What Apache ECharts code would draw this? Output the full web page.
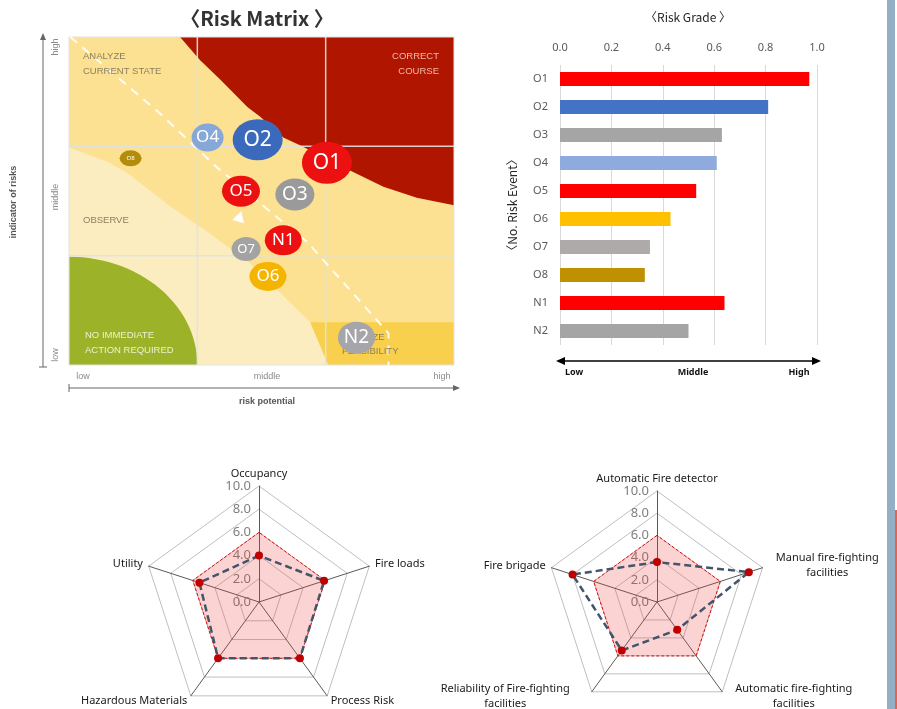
<!DOCTYPE html>
<html>
<head>
<meta charset="utf-8">
<title>Risk Matrix / Risk Grade</title>
<script src="https://cdn.jsdelivr.net/npm/echarts@6.0.0/dist/echarts.min.js"></script>
<style>
  html, body { margin: 0; padding: 0; background: #fff; }
  #main { width: 897px; height: 709px; }
</style>
</head>
<body>
<div id="main"></div>
<script>
// --- risk matrix bubbles (x: risk potential, y: indicator of risks, 0..3 = low/middle/high bands)
const matrixEvents = ['O1', 'O2', 'O3', 'O4', 'O5', 'O6', 'O7', 'O8', 'N1', 'N2'];
const riskPotential = [2.01, 1.47, 1.76, 1.08, 1.34, 1.55, 1.38, 0.48, 1.67, 2.24];
const riskIndicator = [1.85, 2.06, 1.56, 2.08, 1.59, 0.81, 1.06, 1.89, 1.14, 0.25];
const matrixLevels = ['low', 'middle', 'high'];

// --- risk grade bars
const gradeEvents = ['O1', 'O2', 'O3', 'O4', 'O5', 'O6', 'O7', 'O8', 'N1', 'N2'];
const riskGrade = [0.97, 0.81, 0.63, 0.61, 0.53, 0.43, 0.35, 0.33, 0.64, 0.50];
const gradeTicks = ['Low', 'Middle', 'High'];

// --- radars (radar goes counter-clockwise from the top)
const hazardAxes = ['Occupancy', 'Utility', 'Hazardous Materials', 'Process Risk', 'Fire loads'];
const hazardLimit = [6, 6, 6, 6, 6];
const hazardScore = [4.0, 5.4, 6.0, 6.0, 5.9];
const protectAxes = ['Automatic Fire detector', 'Fire brigade', 'Reliability of Fire-fighting\nfacilities',
  'Automatic fire-fighting\nfacilities', 'Manual fire-fighting\nfacilities'];
const protectLimit = [6, 6, 6, 6, 6];
const protectScore = [3.6, 8.0, 5.4, 3.1, 8.7];

// background zones of the matrix, in axis units
const correctZone = [[0.865, 3], [1.02, 2.79], [1.18, 2.61], [1.39, 2.36], [1.49, 2.27], [1.67, 2.08],
  [1.8, 2.01], [2.19, 1.78], [2.45, 1.63], [2.71, 1.53], [3, 1.46], [3, 3]];
const observeZone = [[0, 1.99], [0.3, 1.86], [0.45, 1.76], [0.79, 1.45], [1.1, 1.2], [1.41, 0.93],
  [1.57, 0.75], [1.75, 0.54], [1.88, 0.39], [2.02, 0], [0, 0]];
const feasibleZone = [[1.88, 0.39], [3, 0.39], [3, 0], [2.02, 0]];
const dashPath = [[0.01, 3], [0.71, 2.3], [1.15, 1.81], [1.86, 1.12], [2.24, 0.62], [2.49, 0.29], [2.49, 0]];

const bubbleStyle = {
  O1: { w: 50, h: 42, c: '#EC1010', f: 21 },
  O2: { w: 50, h: 41, c: '#3B69BC', f: 21 },
  O3: { w: 39, h: 32, c: '#9A9A9A', f: 19 },
  O4: { w: 32, h: 28, c: '#86A8D9', f: 17 },
  O5: { w: 38, h: 31, c: '#EC1010', f: 17 },
  O6: { w: 37, h: 29, c: '#F4B400', f: 17 },
  O7: { w: 29, h: 24, c: '#A3A3A3', f: 13 },
  O8: { w: 22, h: 16, c: '#B48C0C', f: 6 },
  N1: { w: 37, h: 30, c: '#EC1010', f: 17 },
  N2: { w: 37, h: 32, c: '#A5A5AA', f: 19 }
};
const barColors = ['#FF0000', '#4472C4', '#A5A5A5', '#8FAADC', '#FF0000', '#FFC000', '#AEAAAA', '#BF9000', '#FF0000', '#A5A5A5'];

function renderZones(params, api) {
  const pts = arr => arr.map(p => api.coord(p));
  const arc = [[0, 0]];
  for (let a = 0; a <= 90; a += 3) {
    const r = a * Math.PI / 180;
    arc.push([1.0 * Math.cos(r), 0.99 * Math.sin(r)]);
  }
  const children = [
    { type: 'polygon', shape: { points: pts([[0, 0], [3, 0], [3, 3], [0, 3]]) }, style: { fill: '#FBE191' } },
    { type: 'polygon', shape: { points: pts(observeZone) }, style: { fill: '#FCEDC0' } },
    { type: 'polygon', shape: { points: pts(feasibleZone) }, style: { fill: '#F8D04E' } },
    { type: 'polygon', shape: { points: pts(arc) }, style: { fill: '#9CB329' } },
    { type: 'polygon', shape: { points: pts(correctZone) }, style: { fill: '#B01500' } }
  ];
  [1, 2].forEach(v => {
    const a = api.coord([v, 0]), b = api.coord([v, 3]);
    const c = api.coord([0, v]), d = api.coord([3, v]);
    children.push({ type: 'line', shape: { x1: a[0], y1: a[1], x2: b[0], y2: b[1] }, style: { stroke: 'rgba(222,226,232,0.9)', lineWidth: 1.5 } });
    children.push({ type: 'line', shape: { x1: c[0], y1: c[1], x2: d[0], y2: d[1] }, style: { stroke: 'rgba(222,226,232,0.9)', lineWidth: 1.5 } });
  });
  const p0 = api.coord([0, 3]), p1 = api.coord([3, 0]);
  children.push({ type: 'rect', shape: { x: p0[0], y: p0[1], width: p1[0] - p0[0], height: p1[1] - p0[1] },
    style: { fill: 'none', stroke: '#E3E3E3', lineWidth: 1 } });
  return { type: 'group', children: children };
}

// rich text so that two-line radar names are centred line by line
function radarRich(names) {
  const rich = {};
  names.forEach((n, i) => {
    const len = Math.max.apply(null, n.split('\n').map(s => s.length));
    rich['n' + i] = { width: Math.ceil(len * 5.9), align: 'center', fontSize: 11, color: '#1a1a1a',
      fontFamily: 'Noto Sans', lineHeight: 15 };
  });
  return rich;
}
function radarName(names) {
  return function (value) {
    const i = names.indexOf(value);
    if (value.indexOf('\n') < 0) return value;
    return value.split('\n').map(s => '{n' + i + '|' + s + '}').join('\n');
  };
}
function indicators(names) {
  return names.map((n, i) => {
    const ind = { name: n, min: 0, max: 10 };
    if (i === 0) {
      ind.axisLabel = { show: true, color: '#7F7F7F', fontSize: 13, fontFamily: 'Noto Sans',
        formatter: v => v.toFixed(1), margin: 8 };
    }
    return ind;
  });
}
function radarBase(center, radius, names) {
  return {
    center: center, radius: radius, shape: 'polygon', splitNumber: 5, startAngle: 90,
    indicator: indicators(names),
    nameGap: 6,
    axisName: { color: '#1a1a1a', fontSize: 11, fontFamily: 'Noto Sans', formatter: radarName(names), rich: radarRich(names) },
    splitArea: { show: false },
    splitLine: { lineStyle: { color: '#BFBFBF', width: 1 } },
    axisLine: { lineStyle: { color: '#595959', width: 1 } },
    axisLabel: { show: false }
  };
}
function radarSeries(idx, limit, score) {
  return [{
    type: 'radar', radarIndex: idx, symbol: 'none', silent: true, z: 2,
    data: [{ value: limit, areaStyle: { color: 'rgba(240,60,60,0.32)' },
      lineStyle: { color: '#E00000', width: 1, type: [3, 2] } }]
  }, {
    type: 'radar', radarIndex: idx, symbol: 'circle', symbolSize: 8, silent: true, z: 3,
    data: [{ value: score, itemStyle: { color: '#C00000' },
      lineStyle: { color: '#44546A', width: 2.5, type: [7, 4] } }]
  }];
}

const gray = '#8a8a8a';
function txt(text, x, y, opt) {
  return Object.assign({ type: 'text', x: x, y: y, z: 3, silent: true,
    style: Object.assign({ text: text, fill: '#333', fontSize: 10, fontFamily: 'Liberation Sans',
      textAlign: 'center', textVerticalAlign: 'middle' }, opt.style || {}) }, opt.el || {});
}

const graphics = [
  // titles
  txt('〈Risk Matrix 〉', 257, 18, { style: { fontSize: 20, fontWeight: 'bold', fill: '#333', fontFamily: 'Noto Sans CJK KR' } }),
  txt('〈Risk Grade 〉', 688, 17, { style: { fontSize: 12, fill: '#262626', fontFamily: 'Noto Sans CJK KR' } }),
  // zone captions
  txt('ANALYZE\nCURRENT STATE', 83, 63.5, { style: { textAlign: 'left', fill: '#8C7F5E', fontSize: 9.5, lineHeight: 15 } }),
  txt('CORRECT\nCOURSE', 439, 63.5, { style: { textAlign: 'right', fill: '#F0B9AA', fontSize: 9.5, lineHeight: 15 } }),
  txt('OBSERVE', 83, 220, { style: { textAlign: 'left', fill: '#8C7F5E', fontSize: 9.5 } }),
  txt('NO IMMEDIATE\nACTION REQUIRED', 85, 342.5, { style: { textAlign: 'left', fill: '#EEF0D2', fontSize: 9.5, lineHeight: 15 } }),
  txt('ANALYZE\nFEASIBILITY', 342, 344, { style: { textAlign: 'left', fill: '#8C7F5E', fontSize: 9.5, lineHeight: 14 } }),
  // matrix y axis
  { type: 'line', shape: { x1: 43, y1: 38, x2: 43, y2: 367 }, style: { stroke: '#666', lineWidth: 1 } },
  { type: 'polygon', shape: { points: [[43, 33], [40, 40], [46, 40]] }, style: { fill: '#666' } },
  { type: 'line', shape: { x1: 39, y1: 367, x2: 47, y2: 367 }, style: { stroke: '#666', lineWidth: 1 } },
  txt(matrixLevels[2], 56, 47, { el: { rotation: Math.PI / 2 }, style: { fill: gray, fontSize: 9 } }),
  txt(matrixLevels[1], 56, 197, { el: { rotation: Math.PI / 2 }, style: { fill: gray, fontSize: 9 } }),
  txt(matrixLevels[0], 56, 355, { el: { rotation: Math.PI / 2 }, style: { fill: gray, fontSize: 9 } }),
  txt('indicator of risks', 14, 202, { el: { rotation: Math.PI / 2 }, style: { fill: '#555', fontSize: 9, fontWeight: 'bold' } }),
  // matrix x axis
  { type: 'line', shape: { x1: 69, y1: 388, x2: 455, y2: 388 }, style: { stroke: '#666', lineWidth: 1 } },
  { type: 'polygon', shape: { points: [[460, 388], [453, 385], [453, 391]] }, style: { fill: '#666' } },
  { type: 'line', shape: { x1: 69, y1: 384, x2: 69, y2: 392 }, style: { stroke: '#666', lineWidth: 1 } },
  txt(matrixLevels[0], 83, 377, { style: { fill: gray, fontSize: 9 } }),
  txt(matrixLevels[1], 267, 377, { style: { fill: gray, fontSize: 9 } }),
  txt(matrixLevels[2], 442, 377, { style: { fill: gray, fontSize: 9 } }),
  txt('risk potential', 267, 402, { style: { fill: '#555', fontSize: 9, fontWeight: 'bold' } }),
  // grade arrow
  { type: 'line', shape: { x1: 562, y1: 361, x2: 815, y2: 361 }, style: { stroke: '#000', lineWidth: 1.3 } },
  { type: 'polygon', shape: { points: [[556, 361], [565, 357], [565, 365]] }, style: { fill: '#000' } },
  { type: 'polygon', shape: { points: [[821, 361], [812, 357], [812, 365]] }, style: { fill: '#000' } },
  txt(gradeTicks[0], 574, 372, { style: { fill: '#111', fontSize: 9, fontWeight: 'bold', fontFamily: 'Noto Sans' } }),
  txt(gradeTicks[1], 693, 372, { style: { fill: '#111', fontSize: 9, fontWeight: 'bold', fontFamily: 'Noto Sans' } }),
  txt(gradeTicks[2], 799, 372, { style: { fill: '#111', fontSize: 9, fontWeight: 'bold', fontFamily: 'Noto Sans' } }),
  // slide edge
  { type: 'rect', shape: { x: 887, y: 0, width: 8, height: 709 }, style: { fill: '#93AFC3' } },
  { type: 'rect', shape: { x: 895, y: 510, width: 2, height: 199 }, style: { fill: '#E8624C' } }
];

const option = {
  animation: false,
  textStyle: { fontFamily: 'Noto Sans' },
  grid: [
    { left: 69, top: 37, width: 385, height: 328 },
    { left: 560, top: 65, width: 257, height: 280 }
  ],
  xAxis: [
    { gridIndex: 0, type: 'value', min: 0, max: 3, show: false },
    { gridIndex: 1, type: 'value', position: 'top', min: 0, max: 1, interval: 0.2,
      axisLabel: { formatter: v => v.toFixed(1), color: '#595959', fontSize: 11, margin: 12 },
      axisLine: { show: false }, axisTick: { show: false },
      splitLine: { lineStyle: { color: '#D9D9D9' } } }
  ],
  yAxis: [
    { gridIndex: 0, type: 'value', min: 0, max: 3, show: false },
    { gridIndex: 1, type: 'category', inverse: true, data: gradeEvents,
      axisLine: { show: false }, axisTick: { show: false },
      axisLabel: { color: '#595959', fontSize: 11, margin: 12 },
      name: '〈No. Risk Event〉', nameLocation: 'middle', nameRotate: 90, nameGap: 42,
      nameTextStyle: { color: '#262626', fontSize: 12, fontFamily: 'Noto Sans CJK KR' } }
  ],
  radar: [
    radarBase([259, 602], 116, hazardAxes),
    radarBase([657, 602], 111, protectAxes)
  ],
  graphic: graphics,
  series: [
    { type: 'custom', xAxisIndex: 0, yAxisIndex: 0, data: [[0, 0]], renderItem: renderZones, silent: true, z: 1, clip: false },
    { type: 'line', xAxisIndex: 0, yAxisIndex: 0, data: dashPath, symbol: 'none', silent: true, z: 2,
      lineStyle: { color: 'rgba(255,255,255,0.9)', width: 2, type: [9, 7] } },
    { type: 'scatter', xAxisIndex: 0, yAxisIndex: 0, data: [[1.33, 1.36]], symbol: 'triangle', symbolSize: [12, 11],
      symbolRotate: -15, itemStyle: { color: '#fff', opacity: 1 }, silent: true, z: 2 },
    { type: 'scatter', xAxisIndex: 0, yAxisIndex: 0, silent: true, z: 10,
      data: matrixEvents.map((n, i) => ({
        name: n, value: [riskPotential[i], riskIndicator[i]],
        symbolSize: [bubbleStyle[n].w, bubbleStyle[n].h],
        itemStyle: { color: bubbleStyle[n].c, opacity: 1 },
        label: { fontSize: bubbleStyle[n].f }
      })),
      label: { show: true, position: 'inside', formatter: '{b}', color: '#fff', fontFamily: 'Noto Sans' } },
    { type: 'bar', xAxisIndex: 1, yAxisIndex: 1, barWidth: 14, silent: true,
      data: riskGrade.map((v, i) => ({ value: v, itemStyle: { color: barColors[i] } })) }
  ].concat(radarSeries(0, hazardLimit, hazardScore), radarSeries(1, protectLimit, protectScore))
};

const chart = echarts.init(document.getElementById('main'));
chart.setOption(option);
</script>
</body>
</html>
